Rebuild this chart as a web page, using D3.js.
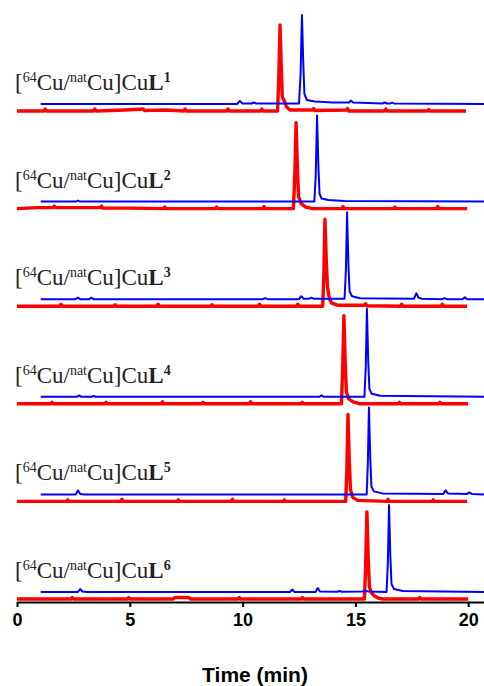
<!DOCTYPE html>
<html>
<head>
<meta charset="utf-8">
<script src="https://cdn.jsdelivr.net/npm/d3@7"></script>
<style>
  body { margin: 0; background: #fff; }
  svg { display: block; }
</style>
</head>
<body>
<div id="chart"></div>
<script>
// ! Data: [time (min), signal above trace baseline]
var blue1 = [[1.05,0],[9.75,0],[9.88,3],[10.0,0.5],[10.4,0.5],[10.5,1.5],[10.6,0.5],[12.5,0.5],[12.57,30],[12.63,89],[12.69,40],[12.74,10],[12.85,4],[13.2,2.5],[14.0,1.5],[14.72,1.5],[14.8,3.5],[14.9,1.5],[16.2,0.5],[16.3,1.5],[16.4,0.5],[16.55,0.5],[16.62,1.5],[16.7,0.5],[20.7,0]];
var blue2 = [[1.05,0],[2.6,0],[2.7,1],[2.8,0],[13.18,0],[13.24,25],[13.3,86],[13.36,35],[13.41,8],[13.5,3],[13.8,1.5],[14.5,0.5],[20.7,0]];
var blue3 = [[1.05,0],[2.6,0],[2.7,1.5],[2.8,0],[3.2,0],[3.3,1.5],[3.4,0],[10.9,0],[11.0,1],[11.1,0],[12.5,0],[12.6,3],[12.7,0.5],[12.95,0.5],[13.05,1.5],[13.15,0.5],[14.52,0.5],[14.58,30],[14.63,87],[14.69,35],[14.74,8],[14.85,3],[15.2,1],[17.6,0.5],[17.7,6],[17.8,1.5],[17.95,0.5],[18.85,0],[18.95,1],[19.05,0],[19.75,0],[19.85,2],[19.95,0],[20.7,0]];
var blue4 = [[1.05,0],[2.65,0],[2.75,1.5],[2.85,0],[3.3,0],[3.4,0.8],[3.5,0],[13.4,0],[13.5,1.5],[13.6,0],[15.4,0],[15.46,30],[15.51,88],[15.57,35],[15.62,8],[15.72,3],[16.1,1],[20.7,0]];
var blue5 = [[1.05,0],[2.6,0],[2.7,4],[2.8,0.5],[3.0,0],[15.5,0],[15.55,30],[15.6,87],[15.66,35],[15.71,8],[15.82,3],[16.2,1],[18.9,0.5],[19.0,4],[19.1,1],[19.95,0.5],[20.05,2],[20.15,0.5],[20.7,0]];
var blue6 = [[1.05,0],[2.7,0],[2.8,3],[2.9,0.5],[3.1,0],[12.1,0],[12.2,2.5],[12.3,0],[13.23,0],[13.33,4],[13.43,0.5],[14.2,0.3],[14.3,1],[14.4,0.3],[15.3,0.5],[15.45,1],[15.6,0.5],[16.38,0],[16.44,30],[16.49,87],[16.55,35],[16.6,8],[16.71,3],[17.1,1],[20.7,0]];

var red1 = [[0,0],[1.2,0],[1.25,2],[1.3,0],[3.4,0],[3.45,2],[3.5,0],[4.8,1],[5.6,2],[5.65,0.5],[6.6,1],[7.4,0],[7.45,2],[7.5,0],[9.3,0],[9.35,2],[9.4,0],[10.8,0],[10.85,2],[10.9,0],[11.55,0],[11.6,30],[11.66,86],[11.72,40],[11.76,14],[11.85,10],[11.95,4],[12.1,1],[13.1,1],[13.15,2.5],[13.2,0.5],[14.6,1],[14.65,2.5],[14.7,0],[16.3,0],[16.35,2],[16.4,0],[18.2,0],[18.25,1.5],[18.3,0],[19.9,0]];
var red2 = [[0,0],[0.9,1],[1.6,1],[1.65,2.5],[1.7,1],[3.0,1],[3.7,1],[3.75,2.5],[3.8,0.5],[5.0,0.5],[6.5,0],[6.55,1.5],[6.6,0],[8.8,0],[8.85,1.5],[8.9,0],[10.9,0],[10.95,2],[11.0,0],[12.25,0],[12.31,30],[12.37,86],[12.43,40],[12.48,12],[12.6,5],[12.8,1.5],[13.1,0],[14.4,0],[14.45,2],[14.5,0],[16.7,0],[16.75,1.5],[16.8,0],[18.6,0],[18.65,2],[18.7,0],[19.95,0]];
var red3 = [[0,0],[1.9,0],[1.95,2],[2.0,0],[4.3,0],[4.35,1.5],[4.4,0],[6.2,0],[6.25,2],[6.3,0],[8.6,0],[8.65,1.5],[8.7,0],[10.7,0],[10.75,2],[10.8,0],[12.4,0],[12.45,2],[12.5,0],[13.55,0],[13.6,30],[13.65,87],[13.71,45],[13.76,20],[13.85,7],[13.95,3],[14.2,1],[15.4,1],[15.45,2.5],[15.5,0.5],[17.0,0],[17.05,2],[17.1,0],[18.8,0],[18.85,2],[18.9,0],[19.95,0]];
var red4 = [[0,0],[1.5,0],[1.55,1.5],[1.6,0],[3.9,0],[3.95,1.5],[4.0,0],[6.4,0],[6.45,2],[6.5,0],[8.2,0],[8.25,1.5],[8.3,0],[10.3,0],[10.35,2],[10.4,0],[12.6,0],[12.65,1.5],[12.7,0],[14.38,0],[14.43,30],[14.49,88],[14.55,40],[14.6,12],[14.7,5],[14.9,2],[15.2,0],[16.9,0],[16.95,1.5],[17.0,0],[18.7,0],[18.75,1.5],[18.8,0],[20,0]];
var red5 = [[0,0],[2.2,0],[2.25,1.5],[2.3,0],[4.6,0],[4.65,2],[4.7,0],[7.1,0],[7.15,1.5],[7.2,0],[9.5,0],[9.55,2],[9.6,0],[11.8,0],[11.85,1.5],[11.9,0],[14.57,0],[14.62,30],[14.67,87],[14.73,40],[14.78,12],[14.88,4],[15.1,1],[16.4,0],[16.45,2],[16.5,0],[18.4,0],[18.45,1.5],[18.5,0],[19.95,0]];
var red6 = [[0,0],[2.4,0],[2.45,1.5],[2.5,0],[4.9,0],[4.95,1.5],[5.0,0],[6.9,0],[7.0,1.5],[7.6,1.5],[7.7,0],[9.8,0],[9.85,1.5],[9.9,0],[12.6,0],[12.65,1.5],[12.7,0],[15.4,0],[15.45,30],[15.51,87],[15.57,40],[15.62,12],[15.72,6],[15.85,3],[16.0,1],[16.2,0],[17.8,0],[17.85,1.5],[17.9,0],[20,0]];

var blue_traces = [blue1, blue2, blue3, blue4, blue5, blue6];
var red_traces = [red1, red2, red3, red4, red5, red6];
var ligand_numbers = ["1", "2", "3", "4", "5", "6"];
var time_ticks = [0, 5, 10, 15, 20];
var x_title = "Time (min)";

// ! Parameters
var width = 484,
    height = 686,
    axis_y = 602,
    panel_step = 97.6;

var svg = d3.select("#chart")
  .append("svg")
  .attr("width", width)
  .attr("height", height);

var x = d3.scaleLinear()
  .domain([0, 20.7])
  .range([17, 484]);

// 1 signal unit = 1 px, traces stacked upwards from the axis
var y = d3.scaleLinear()
  .domain([0, 600])
  .range([axis_y, axis_y - 600]);

function blue_offset(i) { return 10 + (5 - i) * panel_step; }
function red_offset(i) { return 3 + (5 - i) * panel_step; }

// ! Traces
red_traces.forEach(function(trace, i) {
  var line = d3.line()
    .x(function(d) { return x(d[0]); })
    .y(function(d) { return y(red_offset(i) + d[1]); });
  svg.append("path")
    .datum(trace)
    .attr("d", line)
    .attr("fill", "none")
    .attr("stroke", "#ff0000")
    .attr("stroke-width", 3.4)
    .attr("stroke-linejoin", "round");
});

blue_traces.forEach(function(trace, i) {
  var line = d3.line()
    .x(function(d) { return x(d[0]); })
    .y(function(d) { return y(blue_offset(i) + d[1]); });
  svg.append("path")
    .datum(trace)
    .attr("d", line)
    .attr("fill", "none")
    .attr("stroke", "#0000ff")
    .attr("stroke-width", 2)
    .attr("stroke-linejoin", "round");
});

// ! Labels
ligand_numbers.forEach(function(n, i) {
  var t = svg.append("text")
    .attr("x", 15)
    .attr("y", y(blue_offset(i)) - 14)
    .style("font-family", "'Liberation Serif', 'Times New Roman', serif")
    .style("font-size", "23px")
    .style("fill", "#222");
  t.append("tspan").text("[");
  t.append("tspan").attr("dy", -8).style("font-size", "14px").text("64");
  t.append("tspan").attr("dy", 8).text("Cu/");
  t.append("tspan").attr("dy", -8).style("font-size", "14px").text("nat");
  t.append("tspan").attr("dy", 8).text("Cu]Cu");
  t.append("tspan").style("font-weight", "bold").text("L");
  t.append("tspan").attr("dy", -8).style("font-weight", "bold").style("font-size", "14px").text(n);
});

// ! X axis
var xAxis = svg.append("g")
  .attr("transform", "translate(0," + axis_y + ")")
  .call(d3.axisBottom(x).tickValues(time_ticks).tickSize(5).tickPadding(6).tickSizeOuter(0));

xAxis.select(".domain").attr("stroke", "#000").attr("stroke-width", 2);
xAxis.selectAll(".tick line").attr("stroke", "#000").attr("stroke-width", 2);
xAxis.selectAll(".tick text")
  .style("font-family", "'Liberation Sans', Arial, sans-serif")
  .style("font-weight", "bold")
  .style("font-size", "18px")
  .style("fill", "#000");

svg.append("text")
  .attr("x", 255)
  .attr("y", 682)
  .attr("text-anchor", "middle")
  .style("font-family", "'Liberation Sans', Arial, sans-serif")
  .style("font-weight", "bold")
  .style("font-size", "21px")
  .style("fill", "#000")
  .text(x_title);
</script>
</body>
</html>
